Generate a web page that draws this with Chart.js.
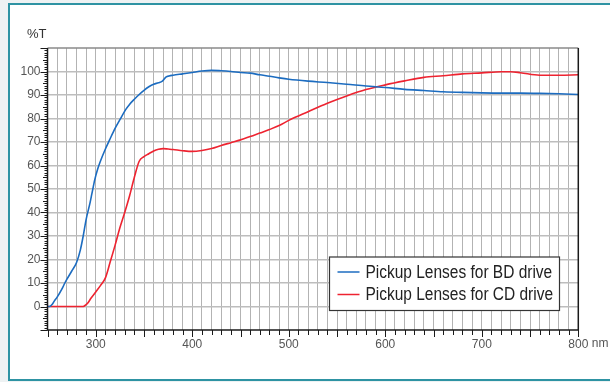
<!DOCTYPE html>
<html>
<head>
<meta charset="utf-8">
<script src="https://cdn.jsdelivr.net/npm/chart.js@4/dist/chart.umd.min.js"></script>
<style>
  html, body { margin: 0; padding: 0; overflow: hidden; background: #eef2f3; }
  canvas { display: block; }
</style>
</head>
<body>
<canvas id="c" width="610" height="382"></canvas>
<script>
// ---- data ----
const seriesLabels = ['Pickup Lenses for BD drive', 'Pickup Lenses for CD drive'];
const bdWavelengths = [250, 252, 255, 257, 260, 265, 268, 270, 275, 280, 284, 287, 290, 294, 296, 299, 302, 305, 310, 315, 320, 325, 331, 335, 340, 345, 350, 355, 360, 365, 369, 373, 376, 380, 390, 400, 410, 420, 430, 440, 450, 460, 470, 480, 490, 500, 520, 540, 560, 580, 600, 620, 640, 660, 680, 700, 720, 740, 760, 780, 800];
const bdValues      = [0, 0, 1, 2.3, 4, 7.5, 10, 11.5, 15, 18.6, 24, 30, 37, 44, 48, 54, 58.5, 62, 67, 71.5, 75.8, 79.5, 83.8, 86, 88.2, 90.2, 92, 93.5, 94.6, 95.2, 95.9, 97.7, 98.1, 98.4, 99, 99.6, 100.2, 100.5, 100.3, 100, 99.6, 99.3, 98.6, 98, 97.3, 96.7, 95.9, 95.3, 94.6, 93.8, 93.2, 92.4, 91.9, 91.4, 91.1, 90.9, 90.8, 90.8, 90.7, 90.5, 90.2];
const cdWavelengths = [250, 260, 270, 280, 287, 290, 292, 295, 300, 305, 310, 315, 320, 325, 330, 335, 340, 345, 350, 355, 360, 365, 370, 375, 380, 390, 400, 410, 420, 430, 440, 450, 460, 470, 480, 490, 500, 520, 540, 560, 580, 600, 620, 640, 660, 680, 700, 720, 730, 740, 760, 780, 800];
const cdValues      = [0, 0, 0, 0, 0, 0.8, 1.6, 3.5, 6.2, 9, 12.2, 19, 26, 33.5, 40, 47, 55, 61.8, 63.8, 65, 66.2, 66.9, 67.2, 67, 66.8, 66.3, 66, 66.4, 67.2, 68.5, 69.7, 70.9, 72.3, 73.8, 75.3, 77, 79.2, 82.9, 86.5, 89.6, 92.3, 94.3, 96, 97.5, 98.2, 99, 99.4, 99.9, 99.9, 99.5, 98.4, 98.4, 98.6];
const xTickLabels = [300, 400, 500, 600, 700, 800];
const yTickLabels = [0, 10, 20, 30, 40, 50, 60, 70, 80, 90, 100];
const xUnit = 'nm';
const yUnit = '%T';

const colors = ['#1c6cc0', '#ee2330'];

const toPoints = (xs, ys) => xs.map((x, i) => ({ x: x, y: ys[i] }));

const FONT = '"Liberation Sans", Arial, sans-serif';

const extras = {
  id: 'extras',
  beforeDraw(chart) {
    // page panel with teal frame
    const { ctx, width, height } = chart;
    ctx.save();
    ctx.fillStyle = '#eef2f3';
    ctx.fillRect(0, 0, width, height);
    ctx.fillStyle = '#ffffff';
    ctx.fillRect(9, 4, width - 9, 376);
    ctx.strokeStyle = '#2e93a3';
    ctx.lineWidth = 2;
    ctx.beginPath();
    ctx.moveTo(width + 2, 4); ctx.lineTo(9, 4); ctx.lineTo(9, 380); ctx.lineTo(width + 2, 380);
    ctx.stroke();
    ctx.restore();
  },
  beforeDatasetsDraw(chart) {
    const { ctx, chartArea: a } = chart;
    ctx.save();
    ctx.strokeStyle = '#8a8a8a';
    ctx.lineWidth = 1.5;
    ctx.beginPath(); ctx.moveTo(a.left, a.top); ctx.lineTo(a.right, a.top); ctx.stroke();
    ctx.restore();
  },
  afterDatasetsDraw(chart) {
    const { ctx, chartArea: a, scales } = chart;
    const xs = scales.x, ys = scales.y;
    ctx.save();
    // axes
    ctx.strokeStyle = '#1a1a1a';
    ctx.lineWidth = 1.5;
    ctx.beginPath();
    ctx.moveTo(a.left, a.top); ctx.lineTo(a.left, a.bottom); ctx.lineTo(a.right, a.bottom);
    ctx.moveTo(a.right, a.top); ctx.lineTo(a.right, a.bottom);
    ctx.stroke();
    // x ticks (every 10 nm)
    ctx.lineWidth = 1;
    ctx.beginPath();
    for (let v = xs.min; v <= xs.max + 0.001; v += 10) {
      const px = Math.round(xs.getPixelForValue(v)) + 0.5;
      const len = (v % 50 === 0) ? 7 : 5;
      ctx.moveTo(px, a.bottom); ctx.lineTo(px, a.bottom + len);
    }
    // y ticks (every 1 unit)
    for (let v = ys.min; v <= ys.max + 0.001; v += 1) {
      const py = Math.round(ys.getPixelForValue(v)) + 0.5;
      const len = (v % 10 === 0) ? 7 : (v % 5 === 0 ? 4.5 : 3);
      ctx.moveTo(a.left - len, py); ctx.lineTo(a.left, py);
    }
    ctx.stroke();
    // unit labels
    ctx.fillStyle = '#333';
    ctx.font = '13px ' + FONT;
    ctx.textAlign = 'left';
    ctx.textBaseline = 'alphabetic';
    ctx.fillText(yUnit, 27, 38);
    ctx.fillStyle = '#555';
    ctx.font = '12px ' + FONT;
    ctx.fillText(xUnit, xs.getPixelForValue(xs.max) + 13.5, 347);
    // legend box
    const lx = 329.5, ly = 257, lw = 230, lh = 53.5;
    ctx.fillStyle = '#ffffff';
    ctx.fillRect(lx, ly, lw, lh);
    ctx.strokeStyle = '#333';
    ctx.lineWidth = 1.2;
    ctx.strokeRect(lx, ly, lw, lh);
    ctx.font = '18px ' + FONT;
    ctx.textBaseline = 'middle';
    chart.data.datasets.forEach((ds, i) => {
      const y = ly + 15 + i * 22.5;
      ctx.strokeStyle = ds.borderColor;
      ctx.lineWidth = 1.5;
      ctx.beginPath(); ctx.moveTo(lx + 8, y); ctx.lineTo(lx + 30, y); ctx.stroke();
      ctx.fillStyle = '#222';
      ctx.save();
      ctx.translate(lx + 36, y + 1);
      ctx.scale(0.86, 1);
      ctx.fillText(ds.label, 0, 0);
      ctx.restore();
    });
    ctx.restore();
  }
};

new Chart(document.getElementById('c'), {
  type: 'line',
  data: {
    datasets: [
      { label: seriesLabels[0], data: toPoints(bdWavelengths, bdValues), borderColor: colors[0], backgroundColor: colors[0], borderWidth: 1.6, pointRadius: 0, cubicInterpolationMode: 'monotone', fill: false },
      { label: seriesLabels[1], data: toPoints(cdWavelengths, cdValues), borderColor: colors[1], backgroundColor: colors[1], borderWidth: 1.6, pointRadius: 0, cubicInterpolationMode: 'monotone', fill: false }
    ]
  },
  options: {
    responsive: false,
    animation: false,
    devicePixelRatio: 1,
    layout: { padding: { left: 0, top: 48, right: 31.7, bottom: 0 } },
    plugins: { legend: { display: false }, tooltip: { enabled: false } },
    scales: {
      x: {
        type: 'linear',
        min: 250, max: 800,
        afterFit: (s) => { s.height = 52; },
        border: { display: false },
        grid: { color: '#b3b3b3', lineWidth: 1, drawTicks: false },
        ticks: {
          stepSize: 10, autoSkip: false, maxRotation: 0, padding: 7,
          color: '#555', font: { family: FONT, size: 12 },
          callback: (v) => xTickLabels.includes(v) ? String(v) : ''
        }
      },
      y: {
        type: 'linear',
        min: -10, max: 110,
        afterFit: (s) => { s.width = 47.5; },
        border: { display: false },
        grid: {
          drawTicks: false,
          lineWidth: 1.5,
          color: (ctx) => (ctx.tick && yTickLabels.includes(ctx.tick.value)) ? '#bdbdbd' : 'rgba(0,0,0,0)'
        },
        ticks: {
          stepSize: 10, autoSkip: false, padding: 7,
          color: '#555', font: { family: FONT, size: 12 },
          callback: (v) => yTickLabels.includes(v) ? String(v) : ''
        }
      }
    }
  },
  plugins: [extras]
});
</script>
</body>
</html>
